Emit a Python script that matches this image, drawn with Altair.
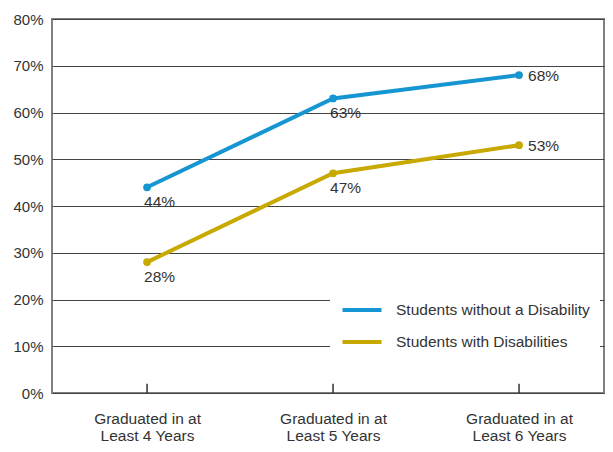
import altair as alt
import pandas as pd

categories = ["Graduated in at|Least 4 Years", "Graduated in at|Least 5 Years", "Graduated in at|Least 6 Years"]
series_names = ["Students without a Disability", "Students with Disabilities"]
without_vals = [44, 63, 68]
with_vals = [28, 47, 53]
colors = ["#1596d3", "#c8a900"]

rows = []
for c, v in zip(categories, without_vals):
    rows.append({"cat": c, "series": series_names[0], "value": v / 100})
for c, v in zip(categories, with_vals):
    rows.append({"cat": c, "series": series_names[1], "value": v / 100})
df = pd.DataFrame(rows)
ticks_df = pd.DataFrame({"cat": categories})

FONT = "Liberation Sans"
x = alt.X("cat:N", sort=categories, scale=alt.Scale(type="point", padding=0.484, align=0.528),
          axis=alt.Axis(title=None, labelExpr="split(datum.label, '|')", labelAngle=0,
                        labelFontSize=15.5, labelColor="#333", labelFont=FONT,
                        labelPadding=18, ticks=False, domain=False, labelLineHeight=17))
y = alt.Y("value:Q", scale=alt.Scale(domain=[0, 0.8], nice=False),
          axis=alt.Axis(title=None, format=".0%", values=[i / 10 for i in range(9)],
                        labelFontSize=15, labelColor="#333", labelFont=FONT, labelPadding=9,
                        ticks=False, domain=False, grid=True, gridColor="#444", gridWidth=1))
color = alt.Color("series:N", sort=series_names,
                  scale=alt.Scale(domain=series_names, range=colors),
                  legend=alt.Legend(title=None, orient="none", legendX=278, legendY=269,
                                    fillColor="white", padding=10, symbolType="M-2,0H2",
                                    symbolSize=380, symbolStrokeWidth=4, labelFontSize=15.5,
                                    labelFont=FONT, labelColor="#333", labelOffset=22,
                                    labelLimit=400, rowPadding=11, symbolOffset=10))

base = alt.Chart(df)
lines = base.mark_line(strokeWidth=4).encode(x=x, y=y, color=color)
pts = base.mark_circle(size=60, opacity=1).encode(x=x, y=y, color=alt.Color("series:N", scale=alt.Scale(domain=series_names, range=colors), legend=None))
lab_below = base.transform_filter(alt.datum.cat != categories[2]).mark_text(
    align="left", dx=-3, dy=15, fontSize=15.5, font=FONT, color="#333").encode(
    x=x, y=y, text=alt.Text("value:Q", format=".0%"))
lab_right = base.transform_filter(alt.datum.cat == categories[2]).mark_text(
    align="left", dx=9, dy=1, fontSize=15.5, font=FONT, color="#333").encode(
    x=x, y=y, text=alt.Text("value:Q", format=".0%"))
tick_rules = alt.Chart(ticks_df).mark_rule(color="#333", strokeWidth=1.5).encode(
    x=x, y=alt.datum(0), y2=alt.datum(0.02))

chart = alt.layer(tick_rules, lines, pts, lab_below, lab_right).properties(
    width=552, height=374,
    autosize=alt.AutoSizeParams(type="none"),
    padding={"left": 44, "top": 11, "right": 1, "bottom": 50},
    background="white",
).configure_view(stroke="#808080", strokeWidth=2)

chart.save("out.html", embed_options={"renderer": "svg", "actions": False})
